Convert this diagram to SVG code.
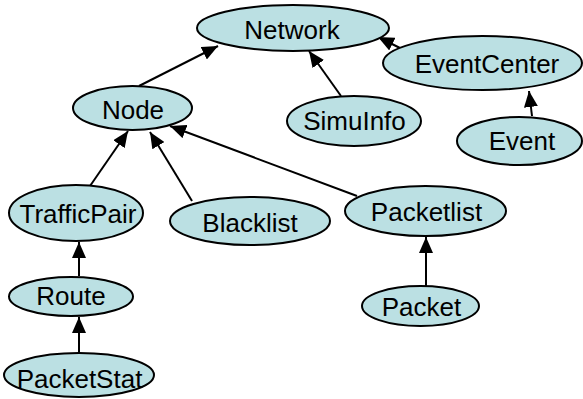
<svg xmlns="http://www.w3.org/2000/svg" width="583" height="399" viewBox="0 0 583 399">
<style>
.n ellipse{fill:#BBE0E3;stroke:#000;stroke-width:2}
.n text{font-family:"Liberation Sans",Arial,sans-serif;font-size:26px;fill:#000;text-anchor:middle}
.e line{stroke:#000;stroke-width:2;marker-end:url(#ah)}
</style>
<defs>
<marker id="ah" markerUnits="userSpaceOnUse" markerWidth="16" markerHeight="14" viewBox="0 0 16 14" refX="16" refY="7" orient="auto">
<path d="M0,0 L16,7 L0,14 Z" fill="#000"/>
</marker>
</defs>
<g class="e">
<line x1="139" y1="86" x2="218" y2="46"/>
<line x1="341" y1="96" x2="309" y2="51"/>
<line x1="400" y1="48" x2="378" y2="37"/>
<line x1="532" y1="116" x2="529" y2="91"/>
<line x1="90" y1="186" x2="128" y2="131"/>
<line x1="192" y1="201" x2="150" y2="132"/>
<line x1="357" y1="196" x2="170" y2="126"/>
<line x1="79" y1="276" x2="79" y2="242"/>
<line x1="79" y1="352" x2="79" y2="317"/>
<line x1="426" y1="287" x2="426" y2="237"/>
</g>
<g id="network" class="n"><ellipse cx="293" cy="28" rx="96" ry="23"/><text x="292" y="39">Network</text></g>
<g id="eventcenter" class="n"><ellipse cx="482.5" cy="63" rx="99.5" ry="27"/><text x="487" y="73">EventCenter</text></g>
<g id="node" class="n"><ellipse cx="132.5" cy="108" rx="59.5" ry="22"/><text x="133" y="119">Node</text></g>
<g id="simuinfo" class="n"><ellipse cx="354" cy="121" rx="67" ry="25"/><text x="354.5" y="130">SimuInfo</text></g>
<g id="event" class="n"><ellipse cx="519.5" cy="141" rx="62.5" ry="24"/><text x="522" y="150">Event</text></g>
<g id="trafficpair" class="n"><ellipse cx="76" cy="213" rx="67" ry="28"/><text x="78" y="223">TrafficPair</text></g>
<g id="blacklist" class="n"><ellipse cx="250" cy="221" rx="80" ry="24"/><text x="250" y="232">Blacklist</text></g>
<g id="packetlist" class="n"><ellipse cx="425.5" cy="211" rx="80.5" ry="25"/><text x="426.5" y="221">Packetlist</text></g>
<g id="route" class="n"><ellipse cx="71" cy="296.5" rx="62" ry="19.5"/><text x="71" y="305">Route</text></g>
<g id="packet" class="n"><ellipse cx="420.5" cy="306" rx="58.5" ry="20"/><text x="421.5" y="316">Packet</text></g>
<g id="packetstat" class="n"><ellipse cx="79" cy="375" rx="75" ry="22"/><text x="79.5" y="388">PacketStat</text></g>
</svg>
